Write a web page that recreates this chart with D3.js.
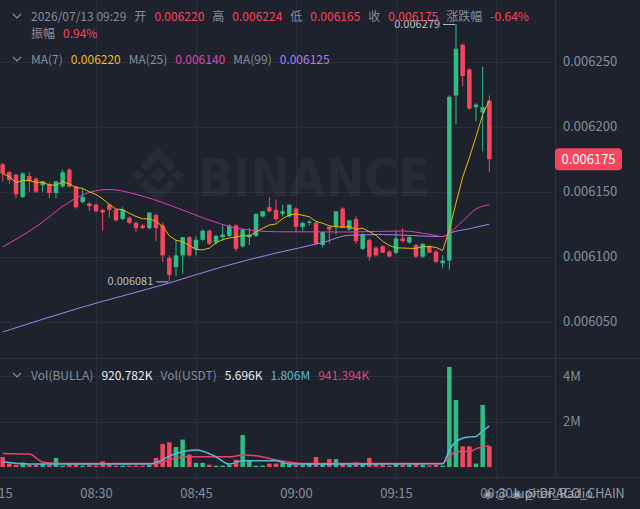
<!DOCTYPE html>
<html>
<head>
<meta charset="utf-8">
<script src="https://cdn.jsdelivr.net/npm/d3@7"></script>
<style>
  body { margin: 0; background: #1e222d; }
  svg { display: block; }
  text { font-family: "Noto Sans CJK SC", "Noto Sans", sans-serif; }
</style>
</head>
<body>
<svg id="chart" width="640" height="509"></svg>
<script>
// one-minute bars, first bar at 08:16
var firstBar = "08:16";

var opens = [
  0.006171,0.006165,0.006163,0.006146,0.006162,0.006160,0.006155,0.006156,0.006149,0.006154,
  0.006167,0.006154,0.006142,0.006141,0.006140,0.006136,0.006140,0.006136,0.006129,0.006130,
  0.006126,0.006124,0.006122,0.006132,0.006124,0.006099,0.006092,0.006101,0.006115,0.006106,
  0.006113,0.006120,0.006111,0.006115,0.006116,0.006124,0.006108,0.006115,0.006116,0.006131,
  0.006138,0.006136,0.006133,0.006131,0.006137,0.006123,0.006126,0.006126,0.006109,0.006123,
  0.006123,0.006137,0.006121,0.006129,0.006106,0.006113,0.006107,0.006108,0.006104,0.006103,
  0.006114,0.006111,0.006109,0.006100,0.006108,0.006104,0.006095,0.006097,0.006224,0.006263,
  0.006244,0.006215,0.006211,0.006220];
var highs = [
  0.006172,0.006166,0.006164,0.006165,0.006165,0.006161,0.006158,0.006157,0.006158,0.006167,
  0.006168,0.006155,0.006153,0.006142,0.006141,0.006137,0.006141,0.006137,0.006138,0.006131,
  0.006127,0.006125,0.006134,0.006133,0.006126,0.006101,0.006113,0.006115,0.006116,0.006116,
  0.006121,0.006121,0.006117,0.006124,0.006125,0.006125,0.006121,0.006122,0.006133,0.006135,
  0.006146,0.006144,0.006140,0.006140,0.006138,0.006127,0.006128,0.006127,0.006119,0.006124,
  0.006135,0.006138,0.006128,0.006131,0.006118,0.006114,0.006108,0.006109,0.006105,0.006120,
  0.006122,0.006116,0.006110,0.006110,0.006109,0.006105,0.006101,0.006224,0.006279,0.006264,
  0.006245,0.006218,0.006246,0.006224];
var lows = [
  0.006158,0.006156,0.006145,0.006145,0.006150,0.006149,0.006150,0.006145,0.006145,0.006153,
  0.006153,0.006137,0.006141,0.006135,0.006134,0.006120,0.006130,0.006127,0.006128,0.006125,
  0.006119,0.006121,0.006121,0.006112,0.006096,0.006081,0.006085,0.006087,0.006100,0.006101,
  0.006112,0.006109,0.006109,0.006112,0.006115,0.006104,0.006107,0.006109,0.006115,0.006130,
  0.006134,0.006127,0.006131,0.006130,0.006119,0.006120,0.006124,0.006109,0.006107,0.006110,
  0.006117,0.006122,0.006120,0.006110,0.006105,0.006097,0.006100,0.006103,0.006100,0.006102,
  0.006111,0.006110,0.006099,0.006099,0.006103,0.006095,0.006091,0.006090,0.006202,0.006231,
  0.006213,0.006204,0.006181,0.006165];
var closes = [
  0.006164,0.006159,0.006148,0.006164,0.006158,0.006150,0.006158,0.006149,0.006158,0.006165,
  0.006154,0.006138,0.006146,0.006139,0.006135,0.006134,0.006136,0.006128,0.006136,0.006126,
  0.006122,0.006122,0.006134,0.006122,0.006101,0.006086,0.006101,0.006115,0.006101,0.006113,
  0.006120,0.006110,0.006116,0.006117,0.006124,0.006106,0.006121,0.006117,0.006133,0.006135,
  0.006135,0.006129,0.006135,0.006140,0.006123,0.006126,0.006127,0.006110,0.006119,0.006121,
  0.006135,0.006122,0.006128,0.006112,0.006117,0.006100,0.006101,0.006103,0.006100,0.006114,
  0.006112,0.006115,0.006100,0.006110,0.006103,0.006096,0.006097,0.006223,0.006260,0.006239,
  0.006214,0.006217,0.006215,0.006175];
var volumes = [
  440000,150000,100000,200000,100000,100000,150000,100000,400000,60000,
  180000,180000,60000,100000,70000,250000,100000,60000,60000,60000,
  60000,60000,90000,400000,1020000,1090000,880000,1210000,550000,180000,
  180000,100000,60000,60000,100000,320000,1410000,290000,60000,60000,
  150000,150000,200000,150000,100000,100000,150000,440000,150000,350000,
  350000,180000,100000,200000,150000,400000,150000,100000,60000,150000,
  100000,100000,150000,100000,60000,100000,60000,4420000,2960000,910000,
  910000,150000,2740000,920782];

var ma25Pts = [["08:16",0.0061075],["08:21",0.006123],["08:26",0.0061421],["08:29",0.0061495],
  ["08:32",0.0061517],["08:36",0.006148],["08:41",0.0061398],["08:46",0.00613],["08:51",0.0061221],
  ["08:57",0.0061192],["09:08",0.006119],["09:16",0.0061198],["09:20",0.0061172],["09:22",0.0061154],
  ["09:23",0.0061182],["09:25",0.0061275],["09:27",0.0061367],["09:29",0.006140]];
var ma99Pts = [["08:16",0.0060421],["08:28",0.0060613],["08:41",0.0060798],["08:49",0.0060923],
  ["08:57",0.0061028],["09:04",0.0061109],["09:08",0.0061165],["09:13",0.006117],["09:22",0.0061155],
  ["09:23",0.006118],["09:26",0.0061215],["09:29",0.006125]];
var volMa5Pts = [["08:16",230000],["08:20",130000],["08:38",130000],["08:42",600000],["08:45",750000],
  ["08:48",450000],["08:50",130000],["08:52",280000],["08:57",280000],["08:59",130000],["09:22",140000],
  ["09:23",750000],["09:24",1120000],["09:25",1270000],["09:26",1330000],["09:27",1350000],
  ["09:28",1600000],["09:29",1806000]];
var volMa10Pts = [["08:16",600000],["08:20",570000],["08:22",220000],["08:24",160000],["08:39",160000],
  ["08:42",400000],["08:44",450000],["08:50",450000],["08:52",530000],["08:54",500000],["08:57",310000],
  ["09:01",160000],["09:22",160000],["09:23",450000],["09:24",680000],["09:26",680000],["09:27",800000],
  ["09:28",900000],["09:29",941394]];

var priceTicks = [0.00605, 0.0061, 0.00615, 0.0062, 0.00625];
var volTicks = [2000000, 4000000];
var lastPrice = 0.006175;

var headerRow1 = [["2026/07/13 09:29","g"],["开","g"],["0.006220","r"],["高","g"],["0.006224","r"],
  ["低","g"],["0.006165","r"],["收","g"],["0.006175","r"],["涨跌幅","g"],["-0.64%","r"]];
var headerRow2 = [["振幅","g"],["0.94%","r"]];
var maRow = [["MA(7)","g"],["0.006220","ma7"],["MA(25)","g"],["0.006140","ma25"],["MA(99)","g"],["0.006125","ma99"]];
var volRow = [["Vol(BULLA)","g"],["920.782K","w"],["Vol(USDT)","g"],["5.696K","w"],["1.806M","v5"],["941.394K","v10"]];

var colors = {
  g: "#848e9c", r: "#f6465d", w: "#eaecef", up: "#2ebd85", down: "#f6465d",
  ma7: "#f0b90b", ma25: "#e040b0", ma99: "#a97ff2", v5: "#5ab8d8", v10: "#e8416a",
  grid: "#2a2e39", border: "#2f3340"
};

var svg = d3.select("#chart");
var W = 640, H = 509, plotRight = 555, volTop = 358, axisTop = 477;

var parseTime = d3.timeParse("%H:%M");
var t0 = parseTime(firstBar);
var bars = opens.map(function(o, i) {
  return { t: d3.timeMinute.offset(t0, i), o: o, h: highs[i], l: lows[i], c: closes[i], v: volumes[i] };
});

var x = d3.scaleTime().domain([parseTime("08:15"), parseTime("09:30")]).range([-4, 496]);
var y = d3.scaleLinear().domain([0.0061, 0.00625]).range([256.7, 61.7]);
var yv = d3.scaleLinear().domain([0, 4000000]).range([467, 376.4]);

svg.append("rect").attr("width", W).attr("height", H).attr("fill", "#1e222d");

svg.append("clipPath").attr("id", "plot")
  .append("rect").attr("x", 0).attr("y", 0).attr("width", plotRight).attr("height", axisTop);

// grid
var grid = svg.append("g").attr("stroke", colors.grid).attr("stroke-width", 1);
grid.selectAll(".hp").data(priceTicks).enter().append("line")
  .attr("x1", 0).attr("x2", plotRight)
  .attr("y1", function(d) { return Math.round(y(d)) + 0.5; })
  .attr("y2", function(d) { return Math.round(y(d)) + 0.5; });
grid.selectAll(".hv").data(volTicks).enter().append("line")
  .attr("x1", 0).attr("x2", plotRight)
  .attr("y1", function(d) { return Math.round(yv(d)) + 0.5; })
  .attr("y2", function(d) { return Math.round(yv(d)) + 0.5; });
grid.selectAll(".vt").data(x.ticks(d3.timeMinute.every(15))).enter().append("line")
  .attr("x1", function(d) { return Math.round(x(d)) + 0.5; })
  .attr("x2", function(d) { return Math.round(x(d)) + 0.5; })
  .attr("y1", 0).attr("y2", axisTop);

// panel borders
var borders = svg.append("g").attr("stroke", colors.border).attr("stroke-width", 1);
borders.append("line").attr("x1", 0).attr("x2", W).attr("y1", volTop + 0.5).attr("y2", volTop + 0.5);
borders.append("line").attr("x1", 0).attr("x2", W).attr("y1", axisTop + 0.5).attr("y2", axisTop + 0.5);
borders.append("line").attr("x1", plotRight + 0.5).attr("x2", plotRight + 0.5).attr("y1", 0).attr("y2", axisTop);

// watermark
var wm = svg.append("g").attr("fill", "#ffffff").attr("fill-opacity", 0.045);
var logo = wm.append("g").attr("transform", "translate(158,175)");
logo.append("path").attr("d", "M0,-8L8,0L0,8L-8,0Z");
logo.append("path").attr("d", "M-20,-6L-14,0L-20,6L-26,0Z");
logo.append("path").attr("d", "M20,-6L26,0L20,6L14,0Z");
logo.append("path").attr("d", "M0,-28L18,-10L12,-4L0,-16L-12,-4L-18,-10Z");
logo.append("path").attr("d", "M0,28L18,10L12,4L0,16L-12,4L-18,10Z");
wm.append("text").attr("x", 198).attr("y", 196).attr("font-size", 52).attr("font-weight", "bold")
  .attr("textLength", 232).attr("lengthAdjust", "spacingAndGlyphs")
  .style("font-family", "'DejaVu Sans', sans-serif").text("BINANCE");

var plot = svg.append("g").attr("clip-path", "url(#plot)");
var bw = 4.5;
function barColor(d) { return d.c >= d.o ? colors.up : colors.down; }

// volume bars
plot.selectAll(".vol").data(bars).enter().append("rect")
  .attr("x", function(d) { return x(d.t) - bw / 2; })
  .attr("width", bw)
  .attr("y", function(d) { return yv(d.v); })
  .attr("height", function(d) { return yv(0) - yv(d.v); })
  .attr("fill", barColor);

// volume MAs
var vline = d3.line()
  .x(function(d) { return x(parseTime(d[0])); })
  .y(function(d) { return yv(d[1]); })
  .curve(d3.curveMonotoneX);
plot.append("path").datum(volMa10Pts).attr("d", vline).attr("fill", "none")
  .attr("stroke", colors.v10).attr("stroke-width", 1.5);
plot.append("path").datum(volMa5Pts).attr("d", vline).attr("fill", "none")
  .attr("stroke", colors.v5).attr("stroke-width", 1.5);

// candles
var candles = plot.selectAll(".candle").data(bars).enter().append("g");
candles.append("line")
  .attr("x1", function(d) { return x(d.t); })
  .attr("x2", function(d) { return x(d.t); })
  .attr("y1", function(d) { return y(d.h); })
  .attr("y2", function(d) { return y(d.l); })
  .attr("stroke", barColor).attr("stroke-width", 1);
candles.append("rect")
  .attr("x", function(d) { return x(d.t) - bw / 2; })
  .attr("width", bw)
  .attr("y", function(d) { return y(Math.max(d.o, d.c)); })
  .attr("height", function(d) { return Math.max(1, Math.abs(y(d.o) - y(d.c))); })
  .attr("fill", barColor);

// price MAs
var ma7 = bars.map(function(d, i) {
  return [d.t, d3.mean(closes.slice(Math.max(0, i - 6), i + 1))];
});
var pline = d3.line()
  .x(function(d) { return x(d[0]); })
  .y(function(d) { return y(d[1]); });
var kline = d3.line()
  .x(function(d) { return x(parseTime(d[0])); })
  .y(function(d) { return y(d[1]); })
  .curve(d3.curveMonotoneX);
plot.append("path").datum(ma99Pts).attr("d", kline).attr("fill", "none").attr("stroke", colors.ma99).attr("stroke-width", 1);
plot.append("path").datum(ma25Pts).attr("d", kline).attr("fill", "none").attr("stroke", colors.ma25).attr("stroke-width", 1);
plot.append("path").datum(ma7).attr("d", pline).attr("fill", "none").attr("stroke", colors.ma7).attr("stroke-width", 1);

// high / low markers
var hiBar = bars[d3.maxIndex(bars, function(d) { return d.h; })];
var loBar = bars[d3.minIndex(bars, function(d) { return d.l; })];
[[hiBar, hiBar.h], [loBar, loBar.l]].forEach(function(m) {
  var px = x(m[0].t), py = y(m[1]);
  plot.append("line").attr("x1", px - 13).attr("x2", px - 1).attr("y1", py + 0.5).attr("y2", py + 0.5)
    .attr("stroke", "#b7bdc6").attr("stroke-width", 1);
  plot.append("text").attr("x", px - 16).attr("y", py + 4).attr("text-anchor", "end")
    .attr("font-size", 11).attr("fill", "#b7bdc6").text(d3.format(".6f")(m[1]));
});

// axes
var yAxis = svg.append("g").attr("transform", "translate(" + plotRight + ",0)")
  .call(d3.axisRight(y).tickValues(priceTicks).tickFormat(d3.format(".6f")).tickSize(0).tickPadding(8));
var vAxis = svg.append("g").attr("transform", "translate(" + plotRight + ",0)")
  .call(d3.axisRight(yv).tickValues(volTicks).tickFormat(function(d) { return d / 1e6 + "M"; }).tickSize(0).tickPadding(8));
var xAxis = svg.append("g").attr("transform", "translate(0," + axisTop + ")")
  .call(d3.axisBottom(x).ticks(d3.timeMinute.every(15)).tickFormat(d3.timeFormat("%H:%M")).tickSize(0).tickPadding(12));
[yAxis, vAxis, xAxis].forEach(function(a) {
  a.select(".domain").remove();
  a.attr("font-family", null).attr("font-size", null);
  a.selectAll("text").attr("fill", colors.g).attr("font-size", 13);
});

// last price tag
var tagY = y(lastPrice);
svg.append("rect").attr("x", plotRight).attr("y", tagY - 11).attr("width", 67).attr("height", 22)
  .attr("rx", 4).attr("fill", colors.down);
svg.append("text").attr("x", plotRight + 33.5).attr("y", tagY + 4.5).attr("text-anchor", "middle")
  .attr("font-size", 13).attr("fill", "#ffffff").text(d3.format(".6f")(lastPrice));

// legends
function chevron(cy) {
  svg.append("path").attr("d", "M13," + (cy - 2) + "L17," + (cy + 2) + "L21," + (cy - 2))
    .attr("fill", "none").attr("stroke", colors.g).attr("stroke-width", 1.2);
}
function legendRow(items, x0, baseline) {
  var cx = x0;
  items.forEach(function(it) {
    var t = svg.append("text").attr("x", cx).attr("y", baseline).attr("font-size", 12)
      .attr("fill", colors[it[1]]).text(it[0]);
    cx += t.node().getComputedTextLength() + 8;
  });
}
chevron(16);
legendRow(headerRow1, 31, 20.5);
legendRow(headerRow2, 31, 37.5);
chevron(59);
legendRow(maRow, 31, 63.5);
chevron(375);
legendRow(volRow, 31, 379.5);

// bottom-right watermarks (they overlap each other in the source too)
svg.append("text").attr("x", 483).attr("y", 498).attr("font-size", 12.5).attr("fill", "#c3c8cf")
  .attr("fill-opacity", 0.75).text("◈ @ Jupiter_Radio");
svg.append("text").attr("x", 512).attr("y", 498).attr("font-size", 12.5).attr("fill", "#c3c8cf")
  .attr("fill-opacity", 0.75).text("◈ @ DRACO_CHAIN");
</script>
</body>
</html>
